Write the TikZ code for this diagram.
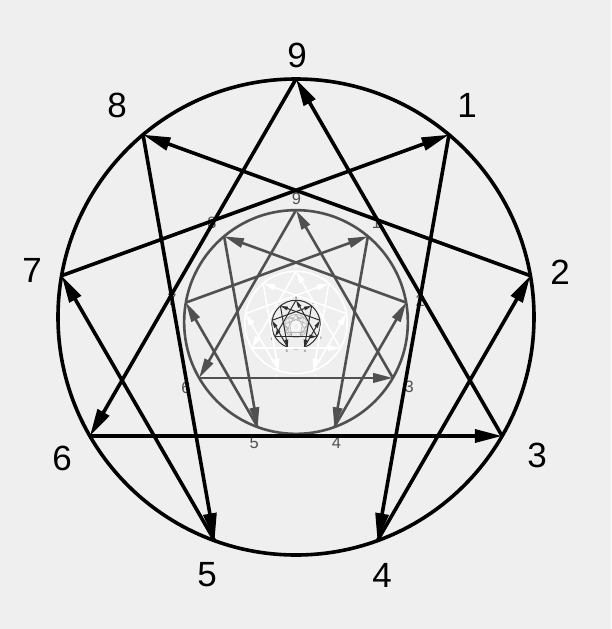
\documentclass[tikz,border=0pt]{standalone}
\usepackage{fontspec}
\setmainfont{Liberation Sans}
\usetikzlibrary{arrows.meta}

\definecolor{paper}{HTML}{EFEFEF}
\definecolor{inkgray}{HTML}{505050}
\definecolor{inkdark}{HTML}{2E2E2E}
\definecolor{inklight}{HTML}{B4B4B4}

\tikzset{
  arr/.style={-{Triangle[length=0pt 7.6, width=0pt 3.6]}},
  ennealabel/.style={font=\fontsize{35}{40}\selectfont, inner sep=0pt},
}

% one enneagram: #1 centre, #2 scale, #3 line colour, #4 text colour (none: no labels), #5 line width, #6 prefix
\newcommand{\EnneaLevel}[6]{%
  \begin{scope}[shift={#1}, scale=#2, transform shape, color=#3, line width=#5]
    \draw (0,0) circle[radius=238];
    \foreach \n in {1,...,9}
      \coordinate (#6\n) at ({238*sin(40*\n)},{-238*cos(40*\n)});
    \def\EnneaText{#4}\def\EnneaNone{none}%
    \ifx\EnneaText\EnneaNone\else
      \foreach \n/\lx/\ly in {9/1/-262, 1/171/-212, 2/264/-45, 3/241/138, 4/86/258,
                              5/-89/258, 6/-234/141, 7/-264/-47, 8/-179/-212}
        \node[ennealabel, text=#4] (#6l\n) at (\lx,\ly) {\n};
    \fi
    \foreach \s/\t in {9/6, 6/3, 3/9, 1/4, 4/2, 2/8, 8/5, 5/7, 7/1}
      \draw[arr] (#6\s) -- (#6\t);
  \end{scope}}

\begin{document}
\begin{tikzpicture}[x=1pt, y=-1pt]
  \useasboundingbox[fill=paper] (0,0) rectangle (611,629);
  %
  \EnneaLevel{(296,326)}{0.023}{white}{none}{0.3pt}{f}
  \EnneaLevel{(296,326)}{0.049}{inklight}{none}{0.6pt}{e}
  \EnneaLevel{(296,324.5)}{0.102}{inkdark}{inkdark}{1.0pt}{d}
  \EnneaLevel{(296,322.5)}{0.215}{white}{white}{1.6pt}{c}
  \EnneaLevel{(296,322)}{0.47}{inkgray}{inkgray}{2.6pt}{b}
  \EnneaLevel{(296,317)}{1}{black}{black}{3.6pt}{a}
\end{tikzpicture}
\end{document}
